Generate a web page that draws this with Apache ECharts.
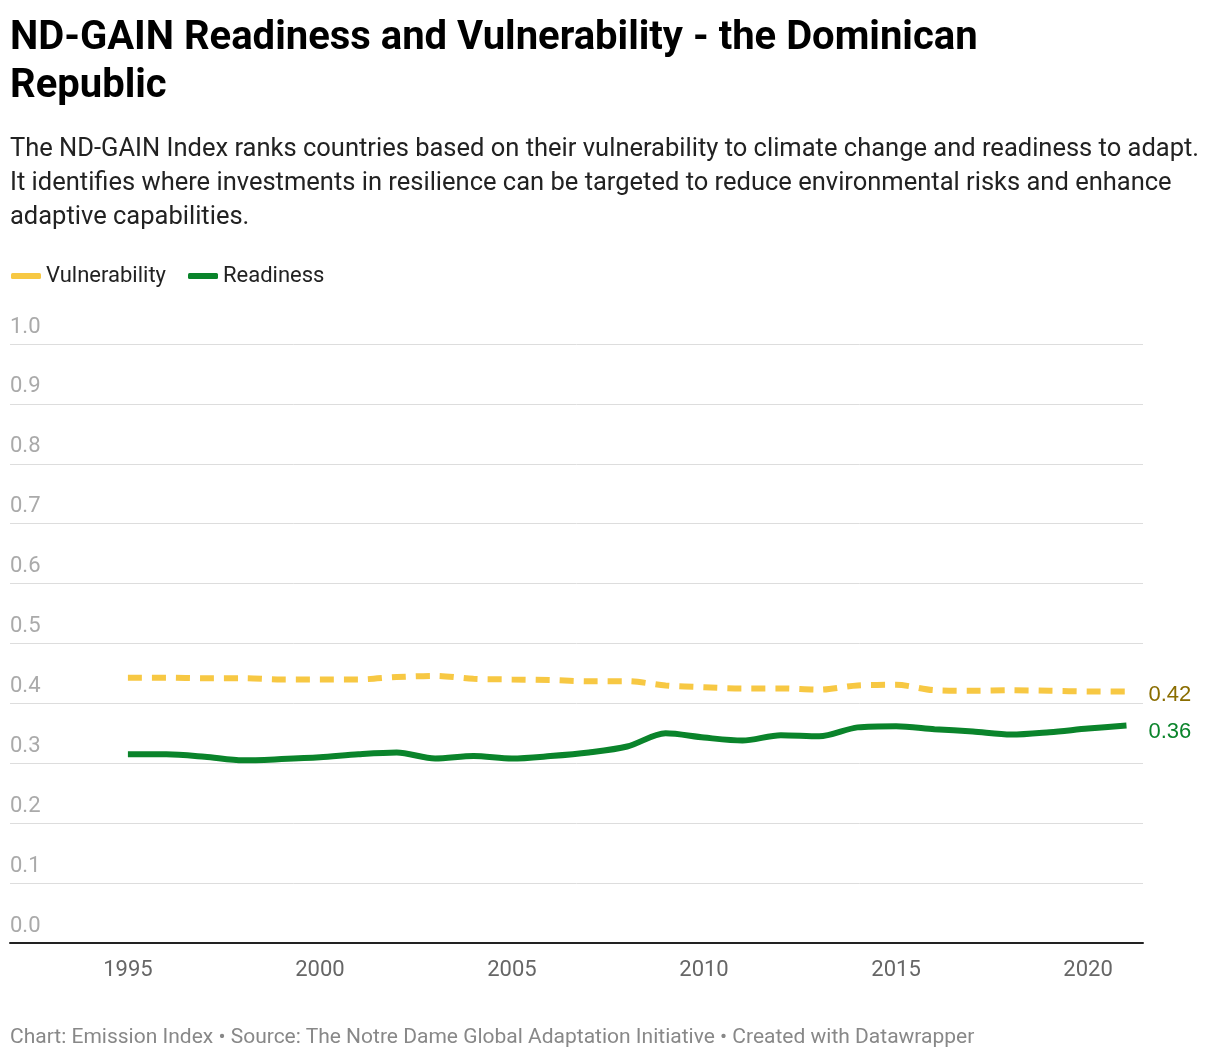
<!DOCTYPE html>
<html><head><meta charset="utf-8">
<script src="https://cdn.jsdelivr.net/npm/echarts@6/dist/echarts.min.js"></script>
<style>
body{margin:0;background:#fff;font-family:Roboto,sans-serif}
h1{position:absolute;left:10px;top:12px;margin:0;font-size:40px;line-height:48px;font-weight:700;color:#000;width:1090px}
p.sub{position:absolute;left:10px;top:130px;margin:0;font-size:25.5px;line-height:34px;color:#222;width:1205px}
.foot{position:absolute;left:10px;top:1024px;font-size:21px;color:#888}
#main{position:absolute;left:0;top:0;width:1220px;height:1060px}
</style></head><body>
<div id="main"></div>
<h1>ND-GAIN Readiness and Vulnerability - the Dominican Republic</h1>
<p class="sub">The ND-GAIN Index ranks countries based on their vulnerability to climate change and readiness to adapt. It identifies where investments in resilience can be targeted to reduce environmental risks and enhance adaptive capabilities.</p>
<div class="foot">Chart: Emission Index • Source: The Notre Dame Global Adaptation Initiative • Created with Datawrapper</div>
<script>
var years = [1995,1996,1997,1998,1999,2000,2001,2002,2003,2004,2005,2006,2007,2008,2009,2010,2011,2012,2013,2014,2015,2016,2017,2018,2019,2020,2021];
var vulnerability = [0.443,0.443,0.442,0.442,0.44,0.44,0.44,0.444,0.446,0.441,0.44,0.439,0.437,0.437,0.43,0.427,0.425,0.425,0.423,0.43,0.431,0.422,0.421,0.422,0.421,0.42,0.42];
var readiness = [0.315,0.315,0.311,0.305,0.307,0.31,0.315,0.318,0.308,0.312,0.308,0.312,0.318,0.328,0.35,0.343,0.338,0.347,0.345,0.36,0.362,0.357,0.353,0.348,0.352,0.358,0.363];
var xTicks = [1995,2000,2005,2010,2015,2020];

var chart = echarts.init(document.getElementById('main'));
function pairs(arr){ return years.map(function(y,i){ return [y, arr[i]]; }); }
chart.setOption({
  animation:false,
  legend:{left:6,top:260,itemWidth:30,itemHeight:6,itemGap:22,icon:'roundRect',
    textStyle:{fontSize:22,color:'#222',fontFamily:'Roboto'},
    data:['Vulnerability','Readiness']},
  grid:{left:10,right:77,top:344,bottom:117},
  xAxis:{type:'value',min:1991.93,max:2021.43,
    axisLine:{lineStyle:{color:'#222',width:2}},
    axisTick:{show:false},splitLine:{show:false},
    axisLabel:{customValues:xTicks,fontSize:22,color:'#666',margin:16,fontFamily:'Roboto',
      formatter:function(v){return String(v);}}},
  yAxis:{type:'value',min:0,max:1,interval:0.1,
    axisLine:{show:false},axisTick:{show:false},
    splitLine:{lineStyle:{color:'#ddd'}},
    axisLabel:{inside:true,verticalAlign:'bottom',margin:0,padding:[0,0,6,0],fontSize:22,color:'#aaa',fontFamily:'Roboto',
      formatter:function(v){return v.toFixed(1);}}},
  series:[
    {name:'Vulnerability',type:'line',smooth:0.3,symbol:'none',data:pairs(vulnerability),
     color:'#f7c843',lineStyle:{width:6,type:[14,10],color:'#f7c843'},
     endLabel:{show:true,formatter:'0.42',color:'#8a6d00',fontSize:22,offset:[14,4]}},
    {name:'Readiness',type:'line',smooth:0.3,symbol:'none',data:pairs(readiness),
     color:'#0a842b',lineStyle:{width:6,color:'#0a842b'},
     endLabel:{show:true,formatter:'0.36',color:'#0a842b',fontSize:22,offset:[14,6]}}
  ]
});
</script>
</body></html>
